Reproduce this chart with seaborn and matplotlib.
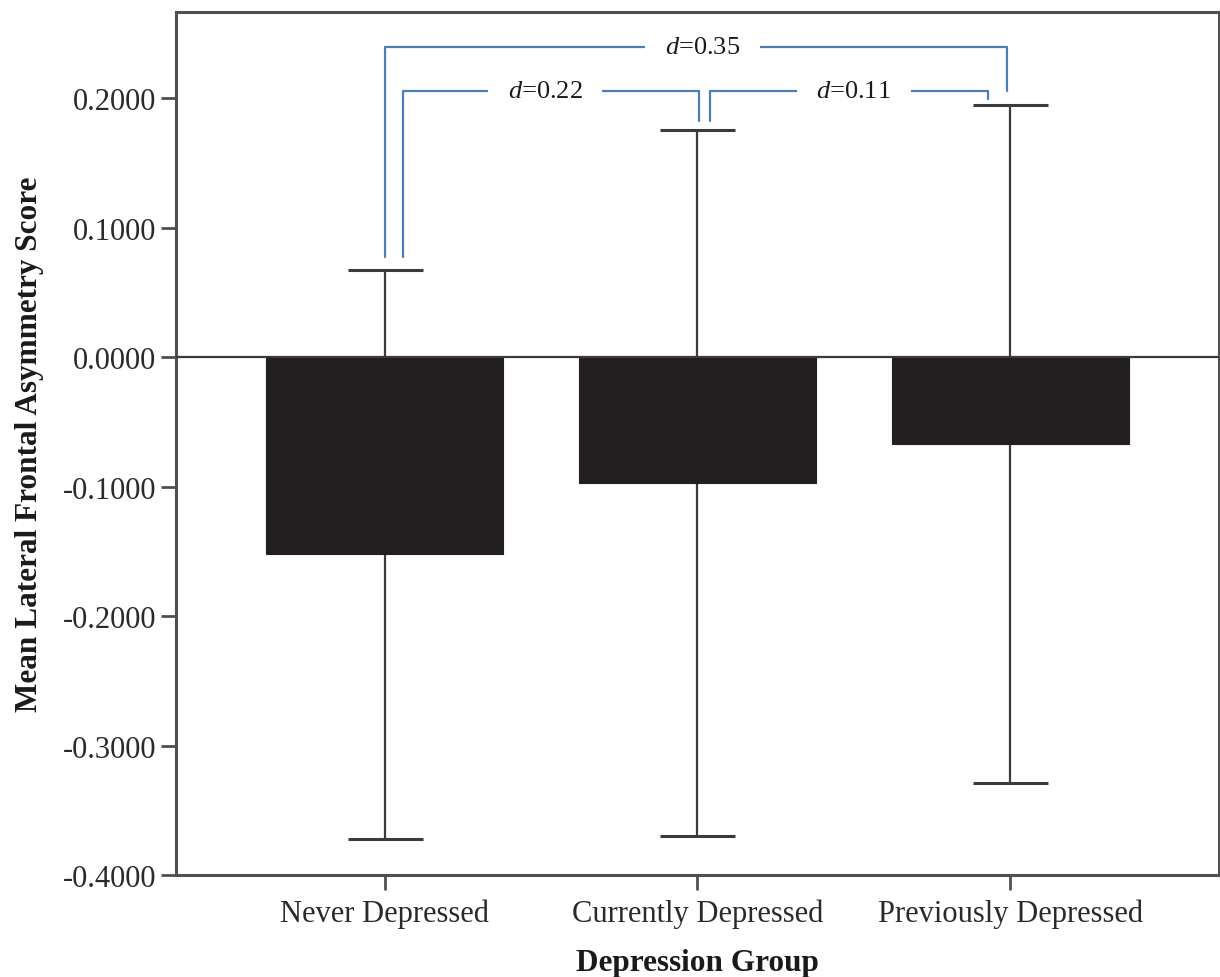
import matplotlib
matplotlib.use("Agg")
import matplotlib.pyplot as plt
import seaborn as sns
import pandas as pd

# Group means and error-bar half-widths
groups = ["Never Depressed", "Currently Depressed", "Previously Depressed"]
means = [-0.1524, -0.0973, -0.0670]
errors = [0.2195, 0.2727, 0.2617]

# Effect sizes between group pairs
d_labels = ["d=0.35", "d=0.22", "d=0.11"]
d_values = ["0.35", "0.22", "0.11"]

yticks = [-0.4, -0.3, -0.2, -0.1, 0.0, 0.1, 0.2]

sns.set_theme(style="white")
plt.rcParams["font.family"] = ["Liberation Serif", "DejaVu Serif"]
plt.rcParams["mathtext.fontset"] = "custom"
plt.rcParams["mathtext.it"] = "Liberation Serif:italic"
plt.rcParams["mathtext.rm"] = "Liberation Serif"

df = pd.DataFrame({"group": groups, "mean": means, "err": errors})

fig = plt.figure(figsize=(12.2, 9.78), dpi=100)
ax = fig.add_axes([0.1443, 0.1043, 0.8547, 0.8824])

bar_color = "#231f20"
line_color = "#3a3a3a"
blue = "#4a7ebb"

sns.barplot(data=df, x="group", y="mean", color=bar_color, saturation=1,
            width=0.757, errorbar=None, ax=ax, zorder=2,
            edgecolor=bar_color, linewidth=0.8)

ax.errorbar(range(len(groups)), df["mean"], yerr=df["err"], fmt="none",
            ecolor=line_color, elinewidth=1.6, capsize=27, capthick=2.2,
            zorder=1)

ax.axhline(0, color=line_color, lw=1.6, zorder=3)

ax.set_xlim(-0.667, 2.667)
ax.set_ylim(-0.4, 0.2667)
ax.set_yticks(yticks)
ax.set_yticklabels([f"{v:.4f}" for v in yticks])

for s in ax.spines.values():
    s.set_visible(True)
    s.set_color("#505050")
    s.set_linewidth(2.2)

ax.tick_params(axis="both", which="major", direction="out", length=11,
               width=2, color="#505050", labelsize=22, labelcolor="#2a2a2a",
               left=True, bottom=True, pad=3)
ax.tick_params(axis="x", pad=6)

ax.set_xlabel("Depression Group", fontsize=22.5, fontweight="bold",
              color="#1a1a1a", labelpad=14)
ax.set_ylabel("Mean Lateral Frontal Asymmetry Score", fontsize=22.5,
              fontweight="bold", color="#1a1a1a", labelpad=14)

# Effect-size brackets
blw = 1.6
# d=0.35: Never vs Previously
ax.plot([0.0, 0.0, 1.99, 1.99], [0.0777, 0.2398, 0.2398, 0.2060],
        color=blue, lw=blw, zorder=4)
# d=0.22: Never vs Currently
ax.plot([0.06, 0.06, 1.006, 1.006], [0.0777, 0.2060, 0.2060, 0.1827],
        color=blue, lw=blw, zorder=4)
# d=0.11: Currently vs Previously
ax.plot([1.04, 1.04, 1.93, 1.93], [0.1827, 0.2060, 0.2060, 0.1995],
        color=blue, lw=blw, zorder=4)

label_pos = [(1.016, 0.2398), (0.514, 0.2060), (1.50, 0.2060)]
for val, (x, y) in zip(d_values, label_pos):
    ax.text(x, y, r"$d$=" + val, ha="center", va="center", fontsize=19,
            color="#1a1a1a", zorder=5,
            bbox=dict(facecolor="white", edgecolor="none", pad=14))

fig.savefig("out.png", dpi=100)
